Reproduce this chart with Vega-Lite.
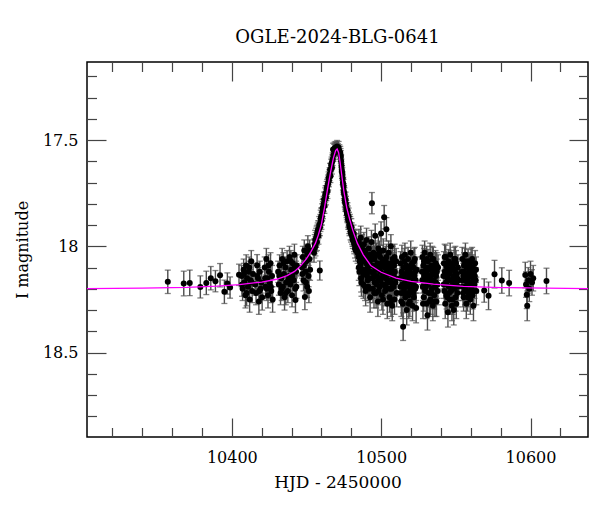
{
  "$schema": "https://vega.github.io/schema/vega-lite/v6.json",
  "autosize": "none",
  "padding": {"left": 87, "top": 62, "right": 12, "bottom": 75},
  "width": 501,
  "height": 375,
  "config": {
    "view": {"stroke": "#000", "strokeWidth": 1.5},
    "font": "DejaVu Serif"
  },
  "title": {
    "text": "OGLE-2024-BLG-0641",
    "font": "DejaVu Serif",
    "fontSize": 18,
    "fontWeight": "normal",
    "color": "#000",
    "anchor": "middle",
    "baseline": "alphabetic",
    "offset": 0
  },
  "datasets": {
    "obs": [
      {"t": 10357.1, "m": 18.167, "e": 0.055},
      {"t": 10367.8, "m": 18.175, "e": 0.058},
      {"t": 10371.8, "m": 18.172, "e": 0.06},
      {"t": 10378.9, "m": 18.191, "e": 0.052},
      {"t": 10382.9, "m": 18.172, "e": 0.055},
      {"t": 10385.9, "m": 18.15, "e": 0.055},
      {"t": 10389.0, "m": 18.164, "e": 0.05},
      {"t": 10392.1, "m": 18.136, "e": 0.055},
      {"t": 10395.0, "m": 18.214, "e": 0.055},
      {"t": 10397.0, "m": 18.175, "e": 0.05},
      {"t": 10398.8, "m": 18.194, "e": 0.05},
      {"t": 10404.8, "m": 18.134, "e": 0.05},
      {"t": 10406.5, "m": 18.14, "e": 0.05},
      {"t": 10406.8, "m": 18.18, "e": 0.055},
      {"t": 10407.2, "m": 18.2, "e": 0.055},
      {"t": 10407.9, "m": 18.11, "e": 0.05},
      {"t": 10408.1, "m": 18.13, "e": 0.05},
      {"t": 10408.4, "m": 18.17, "e": 0.05},
      {"t": 10409.1, "m": 18.23, "e": 0.06},
      {"t": 10409.6, "m": 18.09, "e": 0.05},
      {"t": 10409.9, "m": 18.22, "e": 0.06},
      {"t": 10410.2, "m": 18.15, "e": 0.05},
      {"t": 10410.8, "m": 18.19, "e": 0.055},
      {"t": 10411.3, "m": 18.12, "e": 0.05},
      {"t": 10411.6, "m": 18.1, "e": 0.05},
      {"t": 10411.9, "m": 18.25, "e": 0.06},
      {"t": 10412.5, "m": 18.16, "e": 0.05},
      {"t": 10413.0, "m": 18.07, "e": 0.05},
      {"t": 10413.3, "m": 18.17, "e": 0.05},
      {"t": 10413.6, "m": 18.21, "e": 0.055},
      {"t": 10414.2, "m": 18.13, "e": 0.05},
      {"t": 10415.6, "m": 18.18, "e": 0.05},
      {"t": 10416.2, "m": 18.22, "e": 0.055},
      {"t": 10416.9, "m": 18.089, "e": 0.05},
      {"t": 10417.0, "m": 18.14, "e": 0.05},
      {"t": 10417.5, "m": 18.15, "e": 0.05},
      {"t": 10418.1, "m": 18.26, "e": 0.06},
      {"t": 10418.4, "m": 18.21, "e": 0.055},
      {"t": 10418.7, "m": 18.12, "e": 0.05},
      {"t": 10419.3, "m": 18.2, "e": 0.055},
      {"t": 10419.9, "m": 18.17, "e": 0.05},
      {"t": 10420.3, "m": 18.24, "e": 0.06},
      {"t": 10422.0, "m": 18.1, "e": 0.05},
      {"t": 10422.3, "m": 18.15, "e": 0.05},
      {"t": 10422.6, "m": 18.19, "e": 0.055},
      {"t": 10423.1, "m": 18.06, "e": 0.05},
      {"t": 10423.4, "m": 18.2, "e": 0.055},
      {"t": 10423.7, "m": 18.15, "e": 0.05},
      {"t": 10424.2, "m": 18.23, "e": 0.06},
      {"t": 10424.5, "m": 18.09, "e": 0.05},
      {"t": 10424.8, "m": 18.12, "e": 0.05},
      {"t": 10425.3, "m": 18.17, "e": 0.05},
      {"t": 10425.9, "m": 18.08, "e": 0.05},
      {"t": 10426.1, "m": 18.19, "e": 0.055},
      {"t": 10426.4, "m": 18.21, "e": 0.055},
      {"t": 10426.9, "m": 18.14, "e": 0.05},
      {"t": 10427.3, "m": 18.25, "e": 0.06},
      {"t": 10431.0, "m": 18.12, "e": 0.05},
      {"t": 10431.5, "m": 18.18, "e": 0.05},
      {"t": 10431.8, "m": 18.14, "e": 0.05},
      {"t": 10432.0, "m": 18.09, "e": 0.05},
      {"t": 10432.6, "m": 18.22, "e": 0.055},
      {"t": 10433.1, "m": 18.15, "e": 0.05},
      {"t": 10433.4, "m": 18.2, "e": 0.055},
      {"t": 10433.7, "m": 18.06, "e": 0.05},
      {"t": 10434.2, "m": 18.19, "e": 0.05},
      {"t": 10434.5, "m": 18.08, "e": 0.05},
      {"t": 10434.8, "m": 18.13, "e": 0.05},
      {"t": 10435.3, "m": 18.24, "e": 0.06},
      {"t": 10435.9, "m": 18.1, "e": 0.05},
      {"t": 10436.1, "m": 18.22, "e": 0.055},
      {"t": 10436.4, "m": 18.17, "e": 0.05},
      {"t": 10437.0, "m": 18.07, "e": 0.05},
      {"t": 10437.5, "m": 18.21, "e": 0.055},
      {"t": 10437.8, "m": 18.16, "e": 0.05},
      {"t": 10438.1, "m": 18.14, "e": 0.05},
      {"t": 10438.6, "m": 18.05, "e": 0.05},
      {"t": 10439.2, "m": 18.18, "e": 0.05},
      {"t": 10439.5, "m": 18.07, "e": 0.05},
      {"t": 10439.7, "m": 18.11, "e": 0.05},
      {"t": 10440.3, "m": 18.23, "e": 0.055},
      {"t": 10440.5, "m": 18.14, "e": 0.05},
      {"t": 10440.8, "m": 18.08, "e": 0.05},
      {"t": 10441.4, "m": 18.16, "e": 0.05},
      {"t": 10441.9, "m": 18.04, "e": 0.05},
      {"t": 10442.1, "m": 18.1, "e": 0.05},
      {"t": 10442.4, "m": 18.2, "e": 0.055},
      {"t": 10442.6, "m": 18.252, "e": 0.06},
      {"t": 10443.0, "m": 18.12, "e": 0.05},
      {"t": 10443.2, "m": 18.19, "e": 0.055},
      {"t": 10443.5, "m": 18.09, "e": 0.05},
      {"t": 10447.0, "m": 18.1, "e": 0.05},
      {"t": 10447.2, "m": 18.13, "e": 0.05},
      {"t": 10447.5, "m": 18.05, "e": 0.05},
      {"t": 10448.0, "m": 18.16, "e": 0.05},
      {"t": 10448.2, "m": 18.09, "e": 0.05},
      {"t": 10448.5, "m": 18.02, "e": 0.05},
      {"t": 10448.9, "m": 18.238, "e": 0.06},
      {"t": 10449.4, "m": 18.12, "e": 0.05},
      {"t": 10449.6, "m": 18.17, "e": 0.05},
      {"t": 10449.9, "m": 18.07, "e": 0.05},
      {"t": 10450.4, "m": 18.19, "e": 0.05},
      {"t": 10450.6, "m": 18.04, "e": 0.05},
      {"t": 10450.9, "m": 18.0, "e": 0.05},
      {"t": 10451.4, "m": 18.14, "e": 0.05},
      {"t": 10451.6, "m": 18.21, "e": 0.055},
      {"t": 10451.9, "m": 18.06, "e": 0.05},
      {"t": 10452.1, "m": 18.02, "e": 0.05},
      {"t": 10452.4, "m": 18.11, "e": 0.05},
      {"t": 10455.0, "m": 18.03, "e": 0.045},
      {"t": 10455.2, "m": 18.01, "e": 0.045},
      {"t": 10455.5, "m": 17.99, "e": 0.045},
      {"t": 10455.8, "m": 17.97, "e": 0.045},
      {"t": 10456.0, "m": 18.0, "e": 0.045},
      {"t": 10456.2, "m": 17.98, "e": 0.045},
      {"t": 10456.5, "m": 17.96, "e": 0.045},
      {"t": 10456.8, "m": 17.95, "e": 0.045},
      {"t": 10457.0, "m": 17.98, "e": 0.04},
      {"t": 10457.3, "m": 17.94, "e": 0.04},
      {"t": 10457.5, "m": 17.93, "e": 0.04},
      {"t": 10457.8, "m": 17.92, "e": 0.04},
      {"t": 10458.0, "m": 17.95, "e": 0.04},
      {"t": 10458.3, "m": 17.92, "e": 0.04},
      {"t": 10458.5, "m": 17.9, "e": 0.04},
      {"t": 10458.9, "m": 18.114, "e": 0.045},
      {"t": 10459.0, "m": 17.91, "e": 0.04},
      {"t": 10459.3, "m": 17.89, "e": 0.04},
      {"t": 10459.5, "m": 17.87, "e": 0.04},
      {"t": 10459.8, "m": 17.86, "e": 0.04},
      {"t": 10460.0, "m": 17.88, "e": 0.04},
      {"t": 10460.3, "m": 17.86, "e": 0.04},
      {"t": 10460.5, "m": 17.84, "e": 0.04},
      {"t": 10460.8, "m": 17.82, "e": 0.04},
      {"t": 10461.0, "m": 17.83, "e": 0.04},
      {"t": 10461.3, "m": 17.81, "e": 0.035},
      {"t": 10461.5, "m": 17.8, "e": 0.035},
      {"t": 10461.8, "m": 17.78, "e": 0.035},
      {"t": 10462.0, "m": 17.81, "e": 0.035},
      {"t": 10462.3, "m": 17.78, "e": 0.035},
      {"t": 10462.5, "m": 17.76, "e": 0.035},
      {"t": 10462.8, "m": 17.75, "e": 0.035},
      {"t": 10463.0, "m": 17.77, "e": 0.035},
      {"t": 10463.3, "m": 17.75, "e": 0.035},
      {"t": 10463.5, "m": 17.73, "e": 0.035},
      {"t": 10463.8, "m": 17.72, "e": 0.035},
      {"t": 10464.0, "m": 17.74, "e": 0.035},
      {"t": 10464.3, "m": 17.71, "e": 0.035},
      {"t": 10464.5, "m": 17.7, "e": 0.035},
      {"t": 10464.8, "m": 17.68, "e": 0.03},
      {"t": 10465.0, "m": 17.69, "e": 0.03},
      {"t": 10465.3, "m": 17.67, "e": 0.03},
      {"t": 10465.5, "m": 17.66, "e": 0.03},
      {"t": 10465.8, "m": 17.64, "e": 0.03},
      {"t": 10466.0, "m": 17.67, "e": 0.03},
      {"t": 10466.3, "m": 17.64, "e": 0.03},
      {"t": 10466.5, "m": 17.62, "e": 0.03},
      {"t": 10466.8, "m": 17.61, "e": 0.03},
      {"t": 10467.0, "m": 17.63, "e": 0.03},
      {"t": 10467.3, "m": 17.6, "e": 0.03},
      {"t": 10467.5, "m": 17.59, "e": 0.03},
      {"t": 10467.8, "m": 17.545, "e": 0.03},
      {"t": 10468.0, "m": 17.57, "e": 0.03},
      {"t": 10468.5, "m": 17.55, "e": 0.03},
      {"t": 10468.8, "m": 17.54, "e": 0.03},
      {"t": 10469.0, "m": 17.56, "e": 0.03},
      {"t": 10469.5, "m": 17.535, "e": 0.028},
      {"t": 10470.0, "m": 17.54, "e": 0.028},
      {"t": 10470.5, "m": 17.53, "e": 0.028},
      {"t": 10471.0, "m": 17.545, "e": 0.028},
      {"t": 10471.5, "m": 17.535, "e": 0.028},
      {"t": 10472.0, "m": 17.55, "e": 0.028},
      {"t": 10472.6, "m": 17.56, "e": 0.03},
      {"t": 10472.8, "m": 17.57, "e": 0.03},
      {"t": 10473.0, "m": 17.58, "e": 0.03},
      {"t": 10473.2, "m": 17.6, "e": 0.03},
      {"t": 10473.4, "m": 17.62, "e": 0.03},
      {"t": 10473.6, "m": 17.64, "e": 0.03},
      {"t": 10473.8, "m": 17.65, "e": 0.03},
      {"t": 10474.0, "m": 17.66, "e": 0.03},
      {"t": 10474.2, "m": 17.68, "e": 0.03},
      {"t": 10474.4, "m": 17.7, "e": 0.035},
      {"t": 10474.6, "m": 17.71, "e": 0.035},
      {"t": 10474.8, "m": 17.72, "e": 0.035},
      {"t": 10475.0, "m": 17.74, "e": 0.035},
      {"t": 10475.2, "m": 17.75, "e": 0.035},
      {"t": 10475.4, "m": 17.76, "e": 0.035},
      {"t": 10475.6, "m": 17.78, "e": 0.035},
      {"t": 10475.8, "m": 17.79, "e": 0.035},
      {"t": 10476.0, "m": 17.8, "e": 0.035},
      {"t": 10476.2, "m": 17.78, "e": 0.035},
      {"t": 10476.4, "m": 17.8, "e": 0.035},
      {"t": 10476.6, "m": 17.82, "e": 0.035},
      {"t": 10476.8, "m": 17.83, "e": 0.035},
      {"t": 10477.0, "m": 17.84, "e": 0.035},
      {"t": 10477.2, "m": 17.85, "e": 0.035},
      {"t": 10477.4, "m": 17.83, "e": 0.035},
      {"t": 10477.6, "m": 17.85, "e": 0.04},
      {"t": 10477.8, "m": 17.87, "e": 0.04},
      {"t": 10478.0, "m": 17.88, "e": 0.04},
      {"t": 10478.2, "m": 17.86, "e": 0.04},
      {"t": 10478.4, "m": 17.88, "e": 0.04},
      {"t": 10478.6, "m": 17.9, "e": 0.04},
      {"t": 10478.8, "m": 17.91, "e": 0.04},
      {"t": 10479.0, "m": 17.89, "e": 0.04},
      {"t": 10479.3, "m": 17.9, "e": 0.04},
      {"t": 10479.5, "m": 17.93, "e": 0.04},
      {"t": 10479.8, "m": 17.94, "e": 0.04},
      {"t": 10480.0, "m": 17.91, "e": 0.04},
      {"t": 10480.3, "m": 17.93, "e": 0.04},
      {"t": 10480.5, "m": 17.95, "e": 0.04},
      {"t": 10480.8, "m": 17.96, "e": 0.04},
      {"t": 10481.0, "m": 17.97, "e": 0.04},
      {"t": 10481.3, "m": 17.96, "e": 0.04},
      {"t": 10481.5, "m": 17.94, "e": 0.04},
      {"t": 10481.8, "m": 17.98, "e": 0.045},
      {"t": 10482.0, "m": 17.99, "e": 0.045},
      {"t": 10482.3, "m": 17.97, "e": 0.045},
      {"t": 10482.5, "m": 18.01, "e": 0.045},
      {"t": 10483.0, "m": 18.02, "e": 0.05},
      {"t": 10483.5, "m": 17.99, "e": 0.05},
      {"t": 10484.2, "m": 18.03, "e": 0.05},
      {"t": 10484.8, "m": 18.05, "e": 0.055},
      {"t": 10485.0, "m": 18.1, "e": 0.06},
      {"t": 10485.1, "m": 17.98, "e": 0.06},
      {"t": 10485.4, "m": 18.12, "e": 0.065},
      {"t": 10485.6, "m": 18.07, "e": 0.06},
      {"t": 10485.7, "m": 18.02, "e": 0.05},
      {"t": 10486.0, "m": 18.09, "e": 0.06},
      {"t": 10486.1, "m": 18.01, "e": 0.055},
      {"t": 10486.3, "m": 17.96, "e": 0.055},
      {"t": 10486.6, "m": 18.15, "e": 0.065},
      {"t": 10486.8, "m": 18.17, "e": 0.065},
      {"t": 10486.9, "m": 18.04, "e": 0.06},
      {"t": 10487.2, "m": 18.0, "e": 0.055},
      {"t": 10487.4, "m": 18.05, "e": 0.06},
      {"t": 10487.5, "m": 18.11, "e": 0.06},
      {"t": 10487.8, "m": 18.07, "e": 0.05},
      {"t": 10488.0, "m": 18.13, "e": 0.06},
      {"t": 10488.1, "m": 18.18, "e": 0.065},
      {"t": 10488.4, "m": 17.99, "e": 0.055},
      {"t": 10488.6, "m": 18.02, "e": 0.055},
      {"t": 10488.7, "m": 18.06, "e": 0.06},
      {"t": 10489.0, "m": 18.13, "e": 0.06},
      {"t": 10489.2, "m": 18.19, "e": 0.065},
      {"t": 10489.3, "m": 18.03, "e": 0.055},
      {"t": 10489.6, "m": 18.21, "e": 0.07},
      {"t": 10489.8, "m": 18.11, "e": 0.06},
      {"t": 10489.9, "m": 18.08, "e": 0.06},
      {"t": 10490.2, "m": 17.97, "e": 0.055},
      {"t": 10490.4, "m": 18.04, "e": 0.055},
      {"t": 10490.5, "m": 18.14, "e": 0.065},
      {"t": 10490.8, "m": 18.05, "e": 0.06},
      {"t": 10491.0, "m": 18.16, "e": 0.065},
      {"t": 10491.1, "m": 18.1, "e": 0.06},
      {"t": 10491.4, "m": 18.19, "e": 0.065},
      {"t": 10491.6, "m": 18.09, "e": 0.06},
      {"t": 10491.7, "m": 18.01, "e": 0.055},
      {"t": 10492.0, "m": 18.12, "e": 0.06},
      {"t": 10492.2, "m": 18.2, "e": 0.065},
      {"t": 10492.3, "m": 18.07, "e": 0.06},
      {"t": 10492.6, "m": 18.24, "e": 0.07},
      {"t": 10492.8, "m": 18.12, "e": 0.06},
      {"t": 10492.9, "m": 18.04, "e": 0.055},
      {"t": 10493.2, "m": 18.15, "e": 0.065},
      {"t": 10493.5, "m": 17.98, "e": 0.055},
      {"t": 10493.8, "m": 17.797, "e": 0.05},
      {"t": 10494.0, "m": 18.06, "e": 0.06},
      {"t": 10494.2, "m": 18.09, "e": 0.06},
      {"t": 10494.5, "m": 18.2, "e": 0.065},
      {"t": 10494.6, "m": 18.15, "e": 0.06},
      {"t": 10494.8, "m": 18.03, "e": 0.055},
      {"t": 10495.1, "m": 18.13, "e": 0.06},
      {"t": 10495.2, "m": 18.22, "e": 0.07},
      {"t": 10495.4, "m": 18.06, "e": 0.06},
      {"t": 10495.7, "m": 18.17, "e": 0.065},
      {"t": 10495.9, "m": 18.1, "e": 0.06},
      {"t": 10496.0, "m": 17.95, "e": 0.055},
      {"t": 10496.3, "m": 18.11, "e": 0.06},
      {"t": 10496.5, "m": 18.04, "e": 0.055},
      {"t": 10496.6, "m": 18.22, "e": 0.07},
      {"t": 10496.9, "m": 18.04, "e": 0.055},
      {"t": 10497.0, "m": 18.18, "e": 0.065},
      {"t": 10497.2, "m": 18.14, "e": 0.06},
      {"t": 10497.5, "m": 18.08, "e": 0.06},
      {"t": 10497.6, "m": 18.11, "e": 0.06},
      {"t": 10497.8, "m": 18.26, "e": 0.07},
      {"t": 10498.1, "m": 18.01, "e": 0.055},
      {"t": 10498.2, "m": 18.21, "e": 0.065},
      {"t": 10498.4, "m": 18.16, "e": 0.065},
      {"t": 10498.7, "m": 18.1, "e": 0.06},
      {"t": 10498.8, "m": 18.03, "e": 0.055},
      {"t": 10499.0, "m": 18.19, "e": 0.065},
      {"t": 10499.3, "m": 18.05, "e": 0.055},
      {"t": 10499.4, "m": 18.16, "e": 0.065},
      {"t": 10499.6, "m": 18.12, "e": 0.06},
      {"t": 10499.9, "m": 17.94, "e": 0.055},
      {"t": 10500.0, "m": 18.09, "e": 0.06},
      {"t": 10500.2, "m": 18.15, "e": 0.065},
      {"t": 10500.5, "m": 18.23, "e": 0.07},
      {"t": 10500.6, "m": 18.18, "e": 0.065},
      {"t": 10500.8, "m": 18.07, "e": 0.06},
      {"t": 10501.1, "m": 18.13, "e": 0.06},
      {"t": 10501.2, "m": 18.25, "e": 0.07},
      {"t": 10501.4, "m": 18.02, "e": 0.055},
      {"t": 10501.7, "m": 18.18, "e": 0.065},
      {"t": 10501.8, "m": 18.08, "e": 0.06},
      {"t": 10502.0, "m": 17.863, "e": 0.055},
      {"t": 10502.3, "m": 18.1, "e": 0.06},
      {"t": 10502.4, "m": 18.14, "e": 0.06},
      {"t": 10502.6, "m": 18.21, "e": 0.07},
      {"t": 10502.9, "m": 18.06, "e": 0.06},
      {"t": 10503.0, "m": 18.19, "e": 0.065},
      {"t": 10503.2, "m": 18.15, "e": 0.065},
      {"t": 10503.5, "m": 17.92, "e": 0.055},
      {"t": 10503.6, "m": 18.05, "e": 0.06},
      {"t": 10503.8, "m": 18.12, "e": 0.06},
      {"t": 10504.1, "m": 18.27, "e": 0.07},
      {"t": 10504.2, "m": 18.16, "e": 0.065},
      {"t": 10504.4, "m": 18.08, "e": 0.06},
      {"t": 10504.7, "m": 18.17, "e": 0.065},
      {"t": 10504.8, "m": 18.1, "e": 0.06},
      {"t": 10505.0, "m": 18.03, "e": 0.055},
      {"t": 10505.3, "m": 18.13, "e": 0.06},
      {"t": 10505.4, "m": 18.2, "e": 0.065},
      {"t": 10505.6, "m": 18.24, "e": 0.07},
      {"t": 10505.9, "m": 18.09, "e": 0.06},
      {"t": 10506.0, "m": 18.12, "e": 0.06},
      {"t": 10506.2, "m": 18.16, "e": 0.065},
      {"t": 10506.5, "m": 18.0, "e": 0.055},
      {"t": 10506.6, "m": 18.26, "e": 0.07},
      {"t": 10506.8, "m": 18.2, "e": 0.065},
      {"t": 10507.1, "m": 18.11, "e": 0.06},
      {"t": 10507.2, "m": 18.08, "e": 0.06},
      {"t": 10507.4, "m": 18.28, "e": 0.07},
      {"t": 10507.7, "m": 18.06, "e": 0.06},
      {"t": 10507.8, "m": 18.18, "e": 0.065},
      {"t": 10508.0, "m": 18.14, "e": 0.06},
      {"t": 10508.3, "m": 18.19, "e": 0.065},
      {"t": 10508.4, "m": 18.13, "e": 0.06},
      {"t": 10508.6, "m": 18.09, "e": 0.06},
      {"t": 10508.9, "m": 18.25, "e": 0.07},
      {"t": 10509.0, "m": 18.05, "e": 0.06},
      {"t": 10509.2, "m": 18.12, "e": 0.06},
      {"t": 10509.6, "m": 18.17, "e": 0.065},
      {"t": 10509.8, "m": 18.15, "e": 0.06},
      {"t": 10510.0, "m": 18.07, "e": 0.06},
      {"t": 10510.4, "m": 18.22, "e": 0.065},
      {"t": 10512.7, "m": 18.15, "e": 0.06},
      {"t": 10512.9, "m": 18.19, "e": 0.065},
      {"t": 10513.0, "m": 18.08, "e": 0.055},
      {"t": 10513.3, "m": 18.22, "e": 0.065},
      {"t": 10513.5, "m": 18.26, "e": 0.07},
      {"t": 10513.6, "m": 18.12, "e": 0.06},
      {"t": 10513.9, "m": 18.05, "e": 0.055},
      {"t": 10514.0, "m": 18.14, "e": 0.06},
      {"t": 10514.2, "m": 18.18, "e": 0.065},
      {"t": 10514.5, "m": 18.27, "e": 0.07},
      {"t": 10514.7, "m": 18.378, "e": 0.065},
      {"t": 10514.9, "m": 18.22, "e": 0.065},
      {"t": 10515.0, "m": 18.1, "e": 0.06},
      {"t": 10515.3, "m": 18.2, "e": 0.065},
      {"t": 10515.5, "m": 18.07, "e": 0.06},
      {"t": 10515.6, "m": 18.14, "e": 0.06},
      {"t": 10515.9, "m": 18.04, "e": 0.055},
      {"t": 10516.0, "m": 18.17, "e": 0.065},
      {"t": 10516.2, "m": 18.24, "e": 0.07},
      {"t": 10516.5, "m": 18.16, "e": 0.06},
      {"t": 10516.7, "m": 18.13, "e": 0.06},
      {"t": 10516.8, "m": 18.09, "e": 0.06},
      {"t": 10517.1, "m": 18.3, "e": 0.07},
      {"t": 10517.3, "m": 18.22, "e": 0.065},
      {"t": 10517.4, "m": 18.12, "e": 0.06},
      {"t": 10517.7, "m": 18.19, "e": 0.065},
      {"t": 10517.9, "m": 18.1, "e": 0.06},
      {"t": 10518.0, "m": 18.06, "e": 0.055},
      {"t": 10518.3, "m": 18.23, "e": 0.065},
      {"t": 10518.5, "m": 18.27, "e": 0.07},
      {"t": 10518.6, "m": 18.15, "e": 0.06},
      {"t": 10518.9, "m": 18.11, "e": 0.06},
      {"t": 10519.0, "m": 18.13, "e": 0.06},
      {"t": 10519.2, "m": 18.26, "e": 0.07},
      {"t": 10519.5, "m": 18.17, "e": 0.065},
      {"t": 10519.7, "m": 18.2, "e": 0.065},
      {"t": 10519.8, "m": 18.03, "e": 0.055},
      {"t": 10520.1, "m": 18.21, "e": 0.065},
      {"t": 10520.3, "m": 18.09, "e": 0.06},
      {"t": 10520.4, "m": 18.13, "e": 0.06},
      {"t": 10520.7, "m": 18.08, "e": 0.06},
      {"t": 10520.9, "m": 18.16, "e": 0.06},
      {"t": 10521.0, "m": 18.28, "e": 0.07},
      {"t": 10521.3, "m": 18.18, "e": 0.065},
      {"t": 10521.5, "m": 18.22, "e": 0.065},
      {"t": 10521.6, "m": 18.1, "e": 0.06},
      {"t": 10521.9, "m": 18.24, "e": 0.065},
      {"t": 10522.0, "m": 18.07, "e": 0.06},
      {"t": 10522.2, "m": 18.14, "e": 0.06},
      {"t": 10522.5, "m": 18.06, "e": 0.055},
      {"t": 10522.7, "m": 18.12, "e": 0.06},
      {"t": 10522.8, "m": 18.2, "e": 0.065},
      {"t": 10523.1, "m": 18.16, "e": 0.06},
      {"t": 10523.3, "m": 18.19, "e": 0.065},
      {"t": 10523.4, "m": 18.29, "e": 0.07},
      {"t": 10523.8, "m": 18.11, "e": 0.06},
      {"t": 10527.3, "m": 18.12, "e": 0.06},
      {"t": 10527.5, "m": 18.16, "e": 0.06},
      {"t": 10527.6, "m": 18.05, "e": 0.055},
      {"t": 10527.9, "m": 18.19, "e": 0.065},
      {"t": 10528.0, "m": 18.27, "e": 0.07},
      {"t": 10528.2, "m": 18.09, "e": 0.06},
      {"t": 10528.5, "m": 18.24, "e": 0.065},
      {"t": 10528.7, "m": 18.07, "e": 0.06},
      {"t": 10528.8, "m": 18.14, "e": 0.06},
      {"t": 10529.1, "m": 18.03, "e": 0.055},
      {"t": 10529.3, "m": 18.12, "e": 0.06},
      {"t": 10529.4, "m": 18.21, "e": 0.065},
      {"t": 10529.7, "m": 18.16, "e": 0.06},
      {"t": 10529.9, "m": 18.19, "e": 0.065},
      {"t": 10530.0, "m": 18.1, "e": 0.06},
      {"t": 10530.3, "m": 18.27, "e": 0.07},
      {"t": 10530.5, "m": 18.06, "e": 0.06},
      {"t": 10530.6, "m": 18.13, "e": 0.06},
      {"t": 10531.0, "m": 18.324, "e": 0.07},
      {"t": 10531.1, "m": 18.15, "e": 0.06},
      {"t": 10531.3, "m": 18.07, "e": 0.055},
      {"t": 10531.6, "m": 18.18, "e": 0.065},
      {"t": 10531.8, "m": 18.1, "e": 0.06},
      {"t": 10531.9, "m": 18.22, "e": 0.065},
      {"t": 10532.2, "m": 18.11, "e": 0.06},
      {"t": 10532.4, "m": 18.26, "e": 0.07},
      {"t": 10532.5, "m": 18.15, "e": 0.06},
      {"t": 10532.8, "m": 18.04, "e": 0.055},
      {"t": 10533.0, "m": 18.14, "e": 0.06},
      {"t": 10533.1, "m": 18.25, "e": 0.07},
      {"t": 10533.4, "m": 18.17, "e": 0.065},
      {"t": 10533.6, "m": 18.22, "e": 0.065},
      {"t": 10533.7, "m": 18.09, "e": 0.06},
      {"t": 10534.0, "m": 18.2, "e": 0.065},
      {"t": 10534.2, "m": 18.06, "e": 0.06},
      {"t": 10534.3, "m": 18.13, "e": 0.06},
      {"t": 10534.6, "m": 18.28, "e": 0.07},
      {"t": 10534.8, "m": 18.17, "e": 0.065},
      {"t": 10534.9, "m": 18.06, "e": 0.055},
      {"t": 10535.2, "m": 18.16, "e": 0.06},
      {"t": 10535.4, "m": 18.09, "e": 0.06},
      {"t": 10535.5, "m": 18.23, "e": 0.065},
      {"t": 10535.8, "m": 18.11, "e": 0.06},
      {"t": 10536.0, "m": 18.26, "e": 0.07},
      {"t": 10536.1, "m": 18.19, "e": 0.065},
      {"t": 10536.4, "m": 18.08, "e": 0.06},
      {"t": 10536.6, "m": 18.17, "e": 0.065},
      {"t": 10536.7, "m": 18.14, "e": 0.06},
      {"t": 10537.0, "m": 18.26, "e": 0.07},
      {"t": 10537.2, "m": 18.09, "e": 0.06},
      {"t": 10537.3, "m": 18.12, "e": 0.06},
      {"t": 10537.7, "m": 18.18, "e": 0.065},
      {"t": 10537.9, "m": 18.21, "e": 0.065},
      {"t": 10538.1, "m": 18.1, "e": 0.06},
      {"t": 10541.7, "m": 18.14, "e": 0.06},
      {"t": 10541.9, "m": 18.18, "e": 0.065},
      {"t": 10542.0, "m": 18.08, "e": 0.055},
      {"t": 10542.3, "m": 18.21, "e": 0.065},
      {"t": 10542.5, "m": 18.05, "e": 0.06},
      {"t": 10542.6, "m": 18.12, "e": 0.06},
      {"t": 10542.9, "m": 18.27, "e": 0.07},
      {"t": 10543.1, "m": 18.14, "e": 0.06},
      {"t": 10543.2, "m": 18.05, "e": 0.055},
      {"t": 10543.5, "m": 18.17, "e": 0.065},
      {"t": 10543.7, "m": 18.09, "e": 0.06},
      {"t": 10543.8, "m": 18.23, "e": 0.065},
      {"t": 10544.1, "m": 18.1, "e": 0.06},
      {"t": 10544.3, "m": 18.24, "e": 0.065},
      {"t": 10544.4, "m": 18.15, "e": 0.06},
      {"t": 10544.7, "m": 18.31, "e": 0.07},
      {"t": 10544.9, "m": 18.12, "e": 0.06},
      {"t": 10545.0, "m": 18.07, "e": 0.055},
      {"t": 10545.3, "m": 18.19, "e": 0.065},
      {"t": 10545.5, "m": 18.22, "e": 0.065},
      {"t": 10545.6, "m": 18.13, "e": 0.06},
      {"t": 10545.9, "m": 18.25, "e": 0.07},
      {"t": 10546.1, "m": 18.16, "e": 0.06},
      {"t": 10546.2, "m": 18.04, "e": 0.055},
      {"t": 10546.5, "m": 18.16, "e": 0.06},
      {"t": 10546.7, "m": 18.08, "e": 0.06},
      {"t": 10546.8, "m": 18.21, "e": 0.065},
      {"t": 10547.1, "m": 18.11, "e": 0.06},
      {"t": 10547.3, "m": 18.19, "e": 0.065},
      {"t": 10547.4, "m": 18.28, "e": 0.07},
      {"t": 10547.7, "m": 18.09, "e": 0.06},
      {"t": 10547.9, "m": 18.25, "e": 0.07},
      {"t": 10548.0, "m": 18.18, "e": 0.065},
      {"t": 10548.3, "m": 18.14, "e": 0.06},
      {"t": 10548.5, "m": 18.11, "e": 0.06},
      {"t": 10548.6, "m": 18.3, "e": 0.07},
      {"t": 10548.9, "m": 18.06, "e": 0.055},
      {"t": 10549.1, "m": 18.16, "e": 0.06},
      {"t": 10549.2, "m": 18.2, "e": 0.065},
      {"t": 10549.5, "m": 18.12, "e": 0.06},
      {"t": 10549.7, "m": 18.06, "e": 0.06},
      {"t": 10549.8, "m": 18.24, "e": 0.065},
      {"t": 10550.1, "m": 18.08, "e": 0.06},
      {"t": 10550.3, "m": 18.27, "e": 0.07},
      {"t": 10550.4, "m": 18.17, "e": 0.065},
      {"t": 10550.7, "m": 18.13, "e": 0.06},
      {"t": 10550.9, "m": 18.15, "e": 0.06},
      {"t": 10551.0, "m": 18.22, "e": 0.065},
      {"t": 10551.4, "m": 18.1, "e": 0.06},
      {"t": 10551.6, "m": 18.19, "e": 0.065},
      {"t": 10551.8, "m": 18.16, "e": 0.06},
      {"t": 10554.0, "m": 18.12, "e": 0.06},
      {"t": 10554.2, "m": 18.16, "e": 0.06},
      {"t": 10554.3, "m": 18.06, "e": 0.055},
      {"t": 10554.6, "m": 18.19, "e": 0.065},
      {"t": 10554.8, "m": 18.22, "e": 0.065},
      {"t": 10554.9, "m": 18.14, "e": 0.06},
      {"t": 10555.2, "m": 18.24, "e": 0.065},
      {"t": 10555.4, "m": 18.12, "e": 0.06},
      {"t": 10555.5, "m": 18.09, "e": 0.06},
      {"t": 10555.8, "m": 18.16, "e": 0.06},
      {"t": 10556.0, "m": 18.07, "e": 0.06},
      {"t": 10556.1, "m": 18.21, "e": 0.065},
      {"t": 10556.4, "m": 18.04, "e": 0.055},
      {"t": 10556.6, "m": 18.19, "e": 0.065},
      {"t": 10556.7, "m": 18.13, "e": 0.06},
      {"t": 10557.0, "m": 18.27, "e": 0.07},
      {"t": 10557.2, "m": 18.14, "e": 0.06},
      {"t": 10557.3, "m": 18.1, "e": 0.06},
      {"t": 10557.6, "m": 18.18, "e": 0.065},
      {"t": 10557.8, "m": 18.24, "e": 0.065},
      {"t": 10557.9, "m": 18.15, "e": 0.06},
      {"t": 10558.2, "m": 18.07, "e": 0.055},
      {"t": 10558.4, "m": 18.1, "e": 0.06},
      {"t": 10558.5, "m": 18.22, "e": 0.065},
      {"t": 10558.8, "m": 18.12, "e": 0.06},
      {"t": 10559.0, "m": 18.21, "e": 0.065},
      {"t": 10559.1, "m": 18.17, "e": 0.065},
      {"t": 10559.4, "m": 18.09, "e": 0.06},
      {"t": 10559.6, "m": 18.13, "e": 0.06},
      {"t": 10559.7, "m": 18.25, "e": 0.07},
      {"t": 10560.0, "m": 18.14, "e": 0.06},
      {"t": 10560.2, "m": 18.07, "e": 0.06},
      {"t": 10560.3, "m": 18.19, "e": 0.065},
      {"t": 10560.6, "m": 18.11, "e": 0.06},
      {"t": 10560.8, "m": 18.17, "e": 0.065},
      {"t": 10560.9, "m": 18.06, "e": 0.055},
      {"t": 10561.2, "m": 18.23, "e": 0.065},
      {"t": 10561.4, "m": 18.1, "e": 0.06},
      {"t": 10561.5, "m": 18.15, "e": 0.06},
      {"t": 10561.8, "m": 18.28, "e": 0.07},
      {"t": 10562.0, "m": 18.21, "e": 0.065},
      {"t": 10562.1, "m": 18.12, "e": 0.06},
      {"t": 10562.5, "m": 18.18, "e": 0.065},
      {"t": 10562.7, "m": 18.14, "e": 0.06},
      {"t": 10562.9, "m": 18.08, "e": 0.06},
      {"t": 10563.3, "m": 18.16, "e": 0.06},
      {"t": 10563.5, "m": 18.11, "e": 0.06},
      {"t": 10563.7, "m": 18.21, "e": 0.065},
      {"t": 10569.0, "m": 18.208, "e": 0.055},
      {"t": 10571.9, "m": 18.233, "e": 0.065},
      {"t": 10575.9, "m": 18.131, "e": 0.065},
      {"t": 10580.8, "m": 18.161, "e": 0.06},
      {"t": 10585.7, "m": 18.173, "e": 0.06},
      {"t": 10596.5, "m": 18.135, "e": 0.06},
      {"t": 10597.0, "m": 18.18, "e": 0.06},
      {"t": 10597.5, "m": 18.228, "e": 0.065},
      {"t": 10597.8, "m": 18.28, "e": 0.07},
      {"t": 10598.5, "m": 18.16, "e": 0.06},
      {"t": 10599.2, "m": 18.2, "e": 0.06},
      {"t": 10600.0, "m": 18.13, "e": 0.06},
      {"t": 10601.0, "m": 18.17, "e": 0.06},
      {"t": 10601.8, "m": 18.15, "e": 0.06},
      {"t": 10610.7, "m": 18.163, "e": 0.06}
    ],
    "fit": [
      {"t": 10303, "m": 18.199},
      {"t": 10340, "m": 18.197},
      {"t": 10370, "m": 18.193},
      {"t": 10390, "m": 18.187},
      {"t": 10405, "m": 18.18},
      {"t": 10420, "m": 18.168},
      {"t": 10430, "m": 18.155},
      {"t": 10437, "m": 18.138},
      {"t": 10442, "m": 18.118},
      {"t": 10446, "m": 18.092},
      {"t": 10450, "m": 18.058},
      {"t": 10453, "m": 18.025},
      {"t": 10456, "m": 17.985},
      {"t": 10458, "m": 17.945},
      {"t": 10460, "m": 17.895},
      {"t": 10462, "m": 17.82},
      {"t": 10464, "m": 17.735},
      {"t": 10466, "m": 17.655},
      {"t": 10468, "m": 17.585},
      {"t": 10469.5, "m": 17.55},
      {"t": 10470.5, "m": 17.542},
      {"t": 10471.5, "m": 17.56},
      {"t": 10472.5, "m": 17.605},
      {"t": 10473.5, "m": 17.66},
      {"t": 10475, "m": 17.74},
      {"t": 10477, "m": 17.82},
      {"t": 10479, "m": 17.875},
      {"t": 10481, "m": 17.925},
      {"t": 10484, "m": 17.985},
      {"t": 10488, "m": 18.04},
      {"t": 10493, "m": 18.09},
      {"t": 10500, "m": 18.122},
      {"t": 10510, "m": 18.15},
      {"t": 10520, "m": 18.165},
      {"t": 10535, "m": 18.178},
      {"t": 10555, "m": 18.188},
      {"t": 10580, "m": 18.194},
      {"t": 10610, "m": 18.197},
      {"t": 10638.5, "m": 18.199}
    ]
  },
  "resolve": {"axis": {"x": "independent", "y": "independent"}},
  "layer": [
    {
      "data": {"name": "obs"},
      "mark": {
        "type": "errorbar",
        "color": "#4d4d4d",
        "ticks": {"size": 6, "thickness": 1.3},
        "rule": {"strokeWidth": 1.4}
      },
      "encoding": {
        "x": {
          "field": "t",
          "type": "quantitative",
          "scale": {"domain": [10303, 10638.5], "nice": false, "zero": false},
          "axis": {
            "orient": "bottom",
            "values": [10400, 10500, 10600],
            "format": "d",
            "ticks": false,
            "domain": false,
            "grid": false,
            "labelFont": "DejaVu Serif",
            "labelFontSize": 16,
            "labelColor": "#000",
            "labelPadding": 12,
            "title": "HJD - 2450000",
            "titleFont": "DejaVu Serif",
            "titleFontSize": 17,
            "titleFontWeight": "normal",
            "titleColor": "#000",
            "titlePadding": 9
          }
        },
        "y": {
          "field": "m",
          "type": "quantitative",
          "scale": {"domain": [17.133, 18.897], "reverse": true, "nice": false, "zero": false},
          "axis": {
            "orient": "left",
            "values": [17.5, 18, 18.5],
            "format": "~g",
            "ticks": false,
            "domain": false,
            "grid": false,
            "labelFont": "DejaVu Serif",
            "labelFontSize": 16,
            "labelColor": "#000",
            "labelPadding": 9,
            "title": "I magnitude",
            "titleFont": "DejaVu Serif",
            "titleFontSize": 16,
            "titleFontWeight": "normal",
            "titleColor": "#000",
            "titlePadding": 12
          }
        },
        "yError": {"field": "e"}
      }
    },
    {
      "data": {"name": "obs"},
      "mark": {"type": "circle", "color": "#000", "opacity": 1, "size": 36},
      "encoding": {
        "x": {
          "field": "t",
          "type": "quantitative",
          "axis": {
            "orient": "bottom",
            "values": [10320, 10340, 10360, 10380, 10400, 10420, 10440, 10460, 10480, 10500, 10520, 10540, 10560, 10580, 10600, 10620],
            "labels": false,
            "domain": false,
            "grid": false,
            "title": null,
            "tickColor": "#444",
            "tickWidth": 1.2,
            "tickSize": {"condition": {"test": "datum.value % 100 === 0", "value": -19}, "value": -9.5}
          }
        },
        "y": {
          "field": "m",
          "type": "quantitative",
          "axis": {
            "orient": "left",
            "values": [17.2, 17.3, 17.4, 17.5, 17.6, 17.7, 17.8, 17.9, 18, 18.1, 18.2, 18.3, 18.4, 18.5, 18.6, 18.7, 18.8],
            "labels": false,
            "domain": false,
            "grid": false,
            "title": null,
            "tickColor": "#444",
            "tickWidth": 1.2,
            "tickSize": {"condition": {"test": "abs(datum.value * 2 - round(datum.value * 2)) < 0.001", "value": -19}, "value": -9.5}
          }
        }
      }
    },
    {
      "data": {"name": "fit"},
      "mark": {"type": "line", "color": "#ff00ff", "strokeWidth": 1.3},
      "encoding": {
        "x": {
          "field": "t",
          "type": "quantitative",
          "axis": {
            "orient": "top",
            "values": [10320, 10340, 10360, 10380, 10400, 10420, 10440, 10460, 10480, 10500, 10520, 10540, 10560, 10580, 10600, 10620],
            "labels": false,
            "domain": false,
            "grid": false,
            "title": null,
            "tickColor": "#444",
            "tickWidth": 1.2,
            "tickSize": {"condition": {"test": "datum.value % 100 === 0", "value": -19}, "value": -9.5}
          }
        },
        "y": {
          "field": "m",
          "type": "quantitative",
          "axis": {
            "orient": "right",
            "values": [17.2, 17.3, 17.4, 17.5, 17.6, 17.7, 17.8, 17.9, 18, 18.1, 18.2, 18.3, 18.4, 18.5, 18.6, 18.7, 18.8],
            "labels": false,
            "domain": false,
            "grid": false,
            "title": null,
            "tickColor": "#444",
            "tickWidth": 1.2,
            "tickSize": {"condition": {"test": "abs(datum.value * 2 - round(datum.value * 2)) < 0.001", "value": -19}, "value": -9.5}
          }
        }
      }
    }
  ]
}
